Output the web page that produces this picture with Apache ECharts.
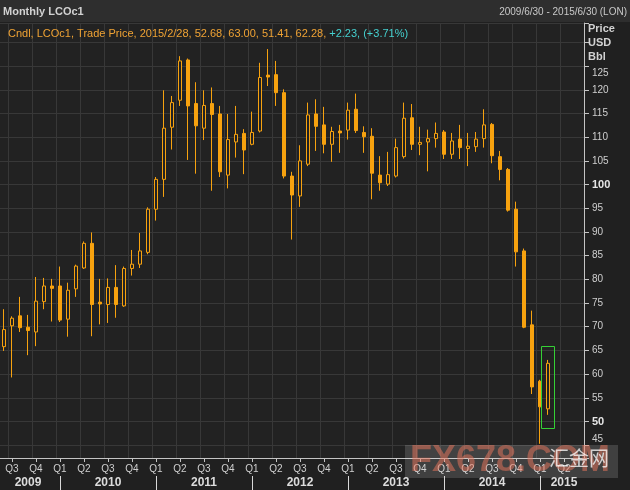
<!DOCTYPE html>
<html>
<head>
<meta charset="utf-8">
<script src="https://cdn.jsdelivr.net/npm/echarts@6/dist/echarts.min.js"></script>
<style>
html,body{margin:0;padding:0;background:#202020;}
#c{width:630px;height:490px;}
</style>
</head>
<body>
<div id="c"></div>
<script>
// ---- data (monthly LCOc1 candles, Jun 2009 - Feb 2015) ----
const categories = [
 '2009/6','2009/7','2009/8','2009/9','2009/10','2009/11','2009/12',
 '2010/1','2010/2','2010/3','2010/4','2010/5','2010/6','2010/7','2010/8','2010/9','2010/10','2010/11','2010/12',
 '2011/1','2011/2','2011/3','2011/4','2011/5','2011/6','2011/7','2011/8','2011/9','2011/10','2011/11','2011/12',
 '2012/1','2012/2','2012/3','2012/4','2012/5','2012/6','2012/7','2012/8','2012/9','2012/10','2012/11','2012/12',
 '2013/1','2013/2','2013/3','2013/4','2013/5','2013/6','2013/7','2013/8','2013/9','2013/10','2013/11','2013/12',
 '2014/1','2014/2','2014/3','2014/4','2014/5','2014/6','2014/7','2014/8','2014/9','2014/10','2014/11','2014/12',
 '2015/1','2015/2','2015/3','2015/4','2015/5','2015/6'
];
const opens = [65.8,70.2,72.3,69.9,68.9,75.3,78.6,
 78.6,71.6,78.0,82.4,87.6,75.2,74.7,78.3,74.4,82.3,83.2,85.7,
 94.8,101.1,112.1,117.8,126.3,117.1,111.9,117.1,114.9,102.0,109.0,110.8,
 108.5,111.3,123.1,123.2,119.4,101.8,97.6,104.3,114.9,112.6,108.5,111.3,
 111.5,115.9,111.0,110.2,102.0,100.1,101.8,105.9,114.1,108.5,109.0,109.7,
 111.1,106.4,109.6,107.6,108.0,109.7,112.7,105.9,103.2,94.8,86.0,70.4,
 58.5,52.68];
const highs = [73.7,72.2,76.3,72.5,80.5,80.3,80.1,
 82.7,79.3,83.1,88.0,89.9,80.1,80.2,83.0,82.7,86.2,89.8,95.2,
 101.6,119.9,118.7,127.1,126.6,121.6,119.9,120.5,116.6,114.9,116.6,111.7,
 115.4,125.7,128.6,126.1,120.1,102.7,108.3,117.3,118.0,116.4,112.2,112.6,
 117.3,119.2,112.3,111.9,106.0,106.9,109.7,117.3,117.0,112.2,111.6,113.1,
 111.5,110.9,112.6,110.9,111.1,115.9,113.0,107.1,103.5,96.4,86.5,73.4,
 58.8,63.00];
const lows = [64.9,59.3,68.9,64.0,65.9,73.7,71.1,
 71.0,67.9,76.3,82.2,68.0,70.5,70.8,71.9,74.2,80.8,82.4,85.3,
 92.4,97.4,107.4,116.6,105.2,102.3,109.4,98.7,101.6,99.2,105.7,102.2,
 108.3,111.0,120.8,116.6,101.3,88.4,95.3,103.9,107.1,106.6,104.8,106.7,
 109.5,110.9,106.7,96.9,98.7,99.7,101.5,105.5,107.3,106.2,102.8,107.8,
 105.4,105.4,105.4,103.9,106.9,107.8,104.5,100.9,94.3,82.7,69.7,55.8,
 45.3,51.41];
const closes = [69.4,71.8,69.8,69.2,75.4,78.6,78.1,
 71.4,77.7,82.8,87.6,74.7,74.8,78.3,74.7,82.3,83.2,86.0,94.8,
 101.1,111.9,117.3,126.1,116.6,112.4,116.7,114.8,102.7,109.5,110.6,107.3,
 111.0,122.6,122.7,119.4,101.8,97.8,105.0,114.7,112.3,108.5,111.2,110.9,
 115.7,111.4,110.1,102.4,100.4,102.1,107.8,114.0,108.5,108.9,109.7,110.8,
 106.4,109.2,107.8,108.1,109.6,112.6,106.1,103.2,94.6,85.8,69.9,57.3,
 53.1,62.28];
const yearLabelMonths = ['2009/9','2010/7','2011/7','2012/7','2013/7','2014/7','2015/4'];
const boldPriceLabels = [50, 100];
const highlightBox = ['2015/2', 48.6, 65.9];
const legendDate = '2015/2/28';
const legendChange = '+2.23, (+3.71%)';
const titleText = 'Monthly LCOc1';
const rangeText = '2009/6/30 - 2015/6/30 (LON)';
const unitLabels = ['Price', 'USD', 'Bbl'];

// ---- chart ----
const FONT = 'Liberation Sans';
const ORANGE = '#f7a20f';
const BG = '#202020';
const candleData = opens.map((o, i) => [o, closes[i], lows[i], highs[i]]);
const n = opens.length - 1;
const f2 = v => v.toFixed(2);
const monthOf = v => parseInt(v.split('/')[1], 10);

const chart = echarts.init(document.getElementById('c'), null, {renderer: 'canvas'});
const option = {
  animation: false,
  backgroundColor: BG,
  textStyle: {fontFamily: FONT},
  grid: {left: 0, top: 23, width: 584, bottom: 32, show: true, backgroundColor: '#222222', borderWidth: 0},
  xAxis: [{
    type: 'category', data: categories, boundaryGap: true, position: 'bottom',
    axisLine: {show: true, lineStyle: {color: '#c4c4c4', width: 1}},
    axisTick: {show: true, alignWithLabel: true, length: 4, lineStyle: {color: '#c4c4c4'},
      interval: (i, v) => monthOf(v) % 3 === 1},
    axisLabel: {interval: (i, v) => monthOf(v) % 3 === 1, color: '#cfcfcf', fontSize: 10, fontFamily: FONT, margin: 6,
      formatter: v => 'Q' + (Math.floor((monthOf(v) - 1) / 3) + 1)},
    splitLine: {show: true, interval: (i, v) => monthOf(v) % 3 === 1, lineStyle: {color: '#383838', width: 1}}
  }, {
    type: 'category', data: categories, boundaryGap: true, position: 'bottom', offset: 18,
    axisLine: {show: false},
    axisTick: {show: true, alignWithLabel: true, length: 14, lineStyle: {color: '#d8d8d8'},
      interval: (i, v) => monthOf(v) === 1},
    axisLabel: {interval: (i, v) => yearLabelMonths.indexOf(v) >= 0, color: '#dcdcdc', fontSize: 12, fontWeight: 'bold',
      fontFamily: FONT, margin: 1, formatter: v => v.split('/')[0]},
    splitLine: {show: false}
  }],
  yAxis: {
    type: 'value', position: 'right', min: 42.3, max: 134.1, minInterval: 5, maxInterval: 5, scale: true,
    axisLine: {show: true, lineStyle: {color: '#c4c4c4', width: 1}},
    axisTick: {show: true, length: 5, lineStyle: {color: '#c4c4c4'}},
    axisLabel: {margin: 8, fontFamily: FONT, fontSize: 10, color: '#cfcfcf',
      formatter: v => {
        if (Math.abs(v % 5) > 1e-6 || v > 127) return '';
        if (v > 122) return '{dn|' + v + '}';
        if (v < 47) return '{up|' + v + '}';
        return boldPriceLabels.indexOf(v) >= 0 ? '{b|' + v + '}' : String(v);
      },
      rich: {
        b: {fontWeight: 'bold', fontSize: 11, color: '#e6e6e6', fontFamily: FONT},
        dn: {fontSize: 10, color: '#cfcfcf', fontFamily: FONT, padding: [14, 0, 0, 0]},
        up: {fontSize: 10, color: '#cfcfcf', fontFamily: FONT, padding: [0, 0, 12, 0]}
      }},
    splitLine: {show: true, lineStyle: {color: '#383838', width: 1}}
  },
  series: [{
    type: 'candlestick', data: candleData, barWidth: 4,
    itemStyle: {color: '#222222', color0: ORANGE, borderColor: ORANGE, borderColor0: ORANGE, borderWidth: 1},
    markLine: {
      silent: true, symbol: ['none', 'none'], lineStyle: {opacity: 0},
      data: [{yAxis: closes[n]}],
      label: {show: true, position: 'end', distance: 0, formatter: f2(closes[n]),
        backgroundColor: ORANGE, color: '#111', fontWeight: 'bold', fontSize: 12, fontFamily: FONT,
        padding: [1, 6, 0, 3], lineHeight: 13, width: 38, align: 'left'}
    }
  }, {
    type: 'custom', data: [highlightBox], encode: {x: 0, y: [1, 2]}, silent: true, z: 5,
    renderItem: (params, api) => {
      const top = api.coord([api.value(0), api.value(2)]);
      const bot = api.coord([api.value(0), api.value(1)]);
      return {type: 'rect', shape: {x: Math.round(top[0]) - 6.5, y: Math.round(top[1]) + 0.5, width: 13, height: Math.round(bot[1] - top[1])},
        style: {fill: 'none', stroke: '#35d035', lineWidth: 1}};
    }
  }],
  graphic: [
    {type: 'rect', left: 0, top: 0, z: 10, shape: {width: 630, height: 22}, style: {fill: '#2e2e2e'}},
    {type: 'text', x: 3, y: 12, z: 11, style: {text: titleText, fill: '#d2d2d2', font: 'bold 11px "Liberation Sans"', verticalAlign: 'middle'}},
    {type: 'text', x: 627, y: 12, z: 11, style: {text: rangeText, fill: '#c8c8c8', font: '10px "Liberation Sans"', align: 'right', verticalAlign: 'middle'}},
    {type: 'text', x: 8, y: 34, z: 11, style: {
      text: '{o|Cndl, LCOc1, Trade Price, ' + legendDate + ', ' + f2(opens[n]) + ', ' + f2(highs[n]) + ', ' + f2(lows[n]) + ', ' + f2(closes[n]) + ', }{c|' + legendChange + '}',
      verticalAlign: 'middle',
      rich: {o: {fill: '#f0a334', font: '11px "Liberation Sans"'}, c: {fill: '#45d0cf', font: '11px "Liberation Sans"'}}}},
    {type: 'text', x: 588, y: 29, z: 11, style: {text: unitLabels[0], fill: '#d2d2d2', font: 'bold 11px "Liberation Sans"', verticalAlign: 'middle'}},
    {type: 'text', x: 588, y: 43, z: 11, style: {text: unitLabels[1], fill: '#d2d2d2', font: 'bold 11px "Liberation Sans"', verticalAlign: 'middle'}},
    {type: 'text', x: 588, y: 57, z: 11, style: {text: unitLabels[2], fill: '#d2d2d2', font: 'bold 11px "Liberation Sans"', verticalAlign: 'middle'}},
    // watermark
    {type: 'rect', left: 405, top: 445, z: 20, silent: true, shape: {width: 213, height: 33}, style: {fill: 'rgba(235,235,235,0.16)'}},
    {type: 'text', x: 410, y: 479, z: 21, silent: true, style: {text: 'FX678.COM', fill: 'rgba(236,118,92,0.5)', font: 'bold 36px "Liberation Sans"', verticalAlign: 'bottom'}},
    {type: 'text', x: 549, y: 458, z: 22, silent: true, style: {text: '汇金网', fill: 'rgba(255,255,255,0.75)', font: '20px "Noto Sans CJK SC"', verticalAlign: 'middle'}}
  ]
};
chart.setOption(option);
</script>
</body>
</html>
